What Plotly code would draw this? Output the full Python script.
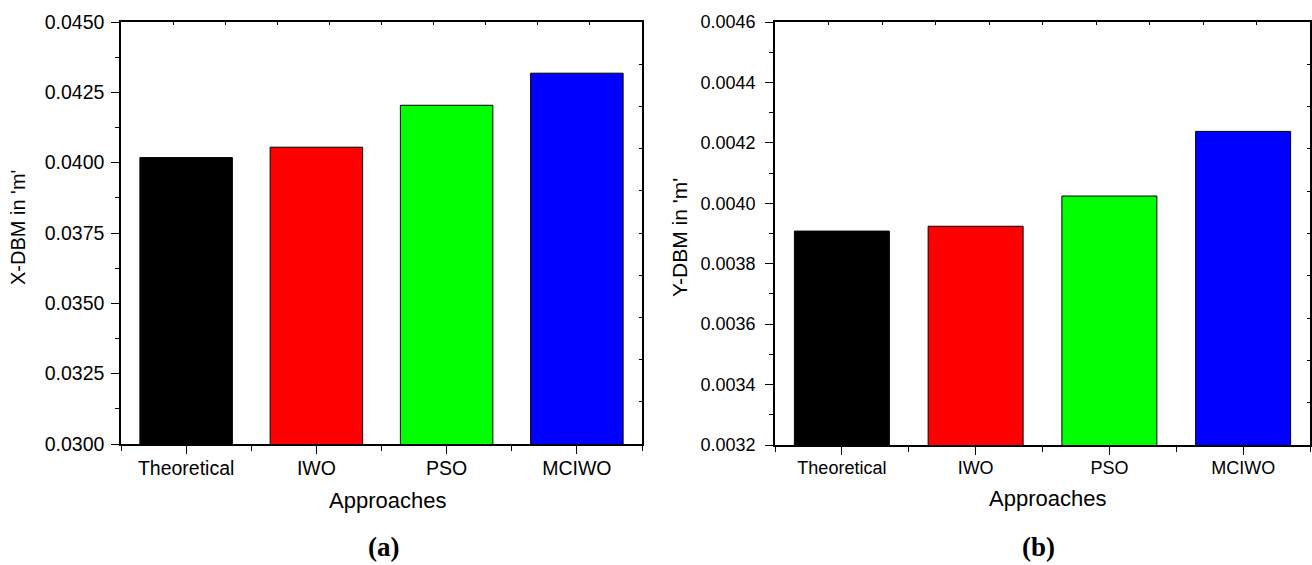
import plotly.graph_objects as go

categories = ["Theoretical", "IWO", "PSO", "MCIWO"]
x_dbm = [0.04018, 0.04055, 0.04204, 0.04318]
y_dbm = [0.003908, 0.003924, 0.004024, 0.004238]
bar_colors = ["#000000", "#FF0000", "#00FF00", "#0000FF"]
x_ylim = [0.0300, 0.0450]
y_ylim = [0.0032, 0.0046]

W, H = 1312, 565
SANS = "Liberation Sans, Arial, sans-serif"
SERIF = "Liberation Serif, Times New Roman, serif"

pos = list(range(len(categories)))

def px(x):
    return x / W

def py(y):
    return 1 - y / H

fig = go.Figure()

fig.add_trace(go.Bar(x=pos, y=x_dbm, width=0.71, marker=dict(color=bar_colors, line=dict(color="black", width=1)),
                     xaxis="x", yaxis="y", showlegend=False, hoverinfo="skip"))
fig.add_trace(go.Bar(x=pos, y=y_dbm, width=0.71, marker=dict(color=bar_colors, line=dict(color="black", width=1)),
                     xaxis="x2", yaxis="y2", showlegend=False, hoverinfo="skip"))
# invisible traces that carry the decorative top/right tick axes
fig.add_trace(go.Scatter(x=[None], y=[None], xaxis="x3", yaxis="y3", showlegend=False, hoverinfo="skip"))
fig.add_trace(go.Scatter(x=[None], y=[None], xaxis="x4", yaxis="y4", showlegend=False, hoverinfo="skip"))

dom_x1 = [px(121), px(642)]
dom_y1 = [py(444), py(22)]
dom_x2 = [px(775), px(1310)]
dom_y2 = [py(445), py(22)]

xrange = [-0.5, len(categories) - 0.5]

def xaxis_common(domain, anchor, fsize):
    return dict(domain=domain, anchor=anchor, range=xrange, tickvals=pos, ticktext=categories,
                ticks="outside", ticklen=8, tickwidth=1.3, tickcolor="black", automargin=False,
                ticklabelstandoff=-2,
                showline=True, linecolor="black", linewidth=1.5, mirror=True,
                showgrid=False, zeroline=False, tickfont=dict(family=SANS, size=fsize, color="black"),
                minor=dict(tick0=-0.5, dtick=1, ticks="outside", ticklen=5, tickwidth=1.3, tickcolor="black"),
                fixedrange=True)

def yaxis_common(domain, anchor, rng, dtick, fsize, standoff):
    return dict(domain=domain, anchor=anchor, range=rng, dtick=dtick, tick0=rng[0], tickformat=".4f",
                ticks="outside", ticklen=8, tickwidth=1.3, tickcolor="black", automargin=False,
                ticklabelstandoff=standoff,
                showline=True, linecolor="black", linewidth=1.5, mirror=True,
                showgrid=False, zeroline=False, tickfont=dict(family=SANS, size=fsize, color="black"),
                minor=dict(dtick=dtick / 2, tick0=rng[0], ticks="outside", ticklen=4, tickwidth=1.3, tickcolor="black"),
                fixedrange=True)

def deco(over, side, anchor, rng, tick0, dtick):
    return dict(overlaying=over, side=side, anchor=anchor, range=rng, tick0=tick0, dtick=dtick,
                ticks="inside", ticklen=3, tickcolor="black", showticklabels=False, showgrid=False,
                zeroline=False, showline=False, fixedrange=True, automargin=False)

fig.update_layout(
    width=W, height=H, margin=dict(l=0, r=0, t=0, b=0, pad=0), autosize=False,
    paper_bgcolor="white", plot_bgcolor="white",
    xaxis=xaxis_common(dom_x1, "y", 19.5),
    yaxis=yaxis_common(dom_y1, "x", x_ylim, 0.0025, 19.5, 3),
    xaxis2=xaxis_common(dom_x2, "y2", 18),
    yaxis2=yaxis_common(dom_y2, "x2", y_ylim, 0.0002, 18, 6),
    xaxis3=deco("x", "top", "y3", xrange, -0.5, 0.4),
    yaxis3=deco("y", "right", "x3", x_ylim, x_ylim[0], 0.0015),
    xaxis4=deco("x2", "top", "y4", xrange, -0.5, 0.4),
    yaxis4=deco("y2", "right", "x4", y_ylim, y_ylim[0], 0.00014),
)

annotations = [
    dict(text="X-DBM in 'm'", x=px(18), y=py(228), textangle=-90, font=dict(family=SANS, size=20, color="black")),
    dict(text="Y-DBM in 'm'", x=px(679), y=py(238), textangle=-90, font=dict(family=SANS, size=21, color="black")),
    dict(text="Approaches", x=px(387), y=py(500), font=dict(family=SANS, size=22, color="black")),
    dict(text="Approaches", x=px(1047), y=py(498), font=dict(family=SANS, size=22, color="black")),
    dict(text="<b>(a)</b>", x=px(383), y=py(547), font=dict(family=SERIF, size=27, color="black")),
    dict(text="<b>(b)</b>", x=px(1038), y=py(547), font=dict(family=SERIF, size=27, color="black")),
]
for a in annotations:
    fig.add_annotation(xref="paper", yref="paper", showarrow=False, xanchor="center", yanchor="middle", **a)

fig.write_html("out.html")
